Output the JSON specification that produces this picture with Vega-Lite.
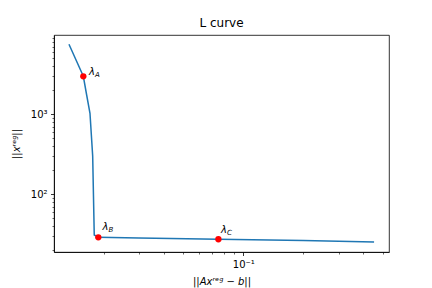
{
  "$schema": "https://vega.github.io/schema/vega-lite/v6.json",
  "width": 335,
  "height": 217,
  "autosize": "none",
  "padding": {"left": 54, "top": 35, "right": 43, "bottom": 36},
  "background": "white",
  "config": {
    "font": "DejaVu Sans",
    "view": {"stroke": "black", "strokeWidth": 0.8},
    "axis": {
      "grid": false,
      "labelFont": "DejaVu Sans",
      "labelFontSize": 10,
      "labelColor": "black",
      "tickColor": "black",
      "tickWidth": 0.8,
      "domainColor": "black",
      "domainWidth": 0.8,
      "titleFont": "DejaVu Sans",
      "titleFontSize": 10,
      "titleFontWeight": "normal",
      "titleColor": "black"
    }
  },
  "title": {"text": "L curve", "font": "DejaVu Sans", "fontSize": 12, "fontWeight": "normal", "color": "black", "offset": 5},
  "datasets": {
    "curve": [
      {"i": 0, "r": 0.01337, "n": 7500},
      {"i": 1, "r": 0.01578, "n": 2985},
      {"i": 2, "r": 0.0164, "n": 1742},
      {"i": 3, "r": 0.01704, "n": 1030},
      {"i": 4, "r": 0.01758, "n": 300},
      {"i": 5, "r": 0.0179, "n": 31},
      {"i": 6, "r": 0.01876, "n": 29.0},
      {"i": 7, "r": 0.03, "n": 28.4},
      {"i": 8, "r": 0.075, "n": 27.4},
      {"i": 9, "r": 0.2, "n": 26.4},
      {"i": 10, "r": 0.452, "n": 25.3}
    ],
    "lambdas": [
      {"sub": "A", "r": 0.01578, "n": 2985, "tr": 0.01685, "tn": 3098},
      {"sub": "B", "r": 0.01876, "n": 29.0, "tr": 0.01969, "tn": 35.8},
      {"sub": "C", "r": 0.075, "n": 27.4, "tr": 0.0773, "tn": 32.8}
    ]
  },
  "resolve": {"axis": {"x": "independent", "y": "independent"}},
  "layer": [
    {
      "data": {"name": "curve"},
      "mark": {"type": "line", "color": "#1f77b4", "strokeWidth": 1.5},
      "encoding": {
        "x": {
          "field": "r", "type": "quantitative",
          "scale": {"type": "log", "domain": [0.01125, 0.537], "nice": false},
          "axis": {"orient": "bottom", "values": [0.1], "labelExpr": "'10⁻¹'", "tickSize": 3.5, "labelPadding": 3.5, "title": "||Axʳᵉᵍ − b||", "titleFontStyle": "italic", "titlePadding": 7}
        },
        "y": {
          "field": "n", "type": "quantitative",
          "scale": {"type": "log", "domain": [19.0, 9795], "nice": false},
          "axis": {"orient": "left", "values": [100, 1000], "labelExpr": "datum.value == 100 ? '10²' : '10³'", "tickSize": 3.5, "labelPadding": 3.5, "title": "||xʳᵉᵍ||", "titleFontStyle": "italic", "titlePadding": 9}
        },
        "order": {"field": "i", "type": "quantitative"}
      }
    },
    {
      "data": {"name": "lambdas"},
      "mark": {"type": "point", "filled": true, "color": "red", "opacity": 1, "size": 40},
      "encoding": {
        "x": {
          "field": "r", "type": "quantitative",
          "axis": {"orient": "bottom", "values": [0.02, 0.03, 0.04, 0.05, 0.06, 0.07, 0.08, 0.09, 0.2, 0.3, 0.4, 0.5], "labels": false, "tickSize": 2, "tickWidth": 0.6, "domain": false, "title": null}
        },
        "y": {
          "field": "n", "type": "quantitative",
          "axis": {"orient": "left", "values": [20, 30, 40, 50, 60, 70, 80, 90, 200, 300, 400, 500, 600, 700, 800, 900, 2000, 3000, 4000, 5000, 6000, 7000, 8000, 9000], "labels": false, "tickSize": 2, "tickWidth": 0.6, "domain": false, "title": null}
        }
      }
    },
    {
      "data": {"name": "lambdas"},
      "mark": {"type": "text", "text": "λ", "font": "DejaVu Sans", "fontStyle": "italic", "fontSize": 10, "align": "left", "baseline": "alphabetic", "color": "black"},
      "encoding": {
        "x": {"field": "tr", "type": "quantitative", "axis": null},
        "y": {"field": "tn", "type": "quantitative", "axis": null}
      }
    },
    {
      "data": {"name": "lambdas"},
      "mark": {"type": "text", "font": "DejaVu Sans", "fontStyle": "italic", "fontSize": 7, "align": "left", "baseline": "alphabetic", "dx": 6, "dy": 2, "color": "black"},
      "encoding": {
        "x": {"field": "tr", "type": "quantitative", "axis": null},
        "y": {"field": "tn", "type": "quantitative", "axis": null},
        "text": {"field": "sub"}
      }
    }
  ]
}
